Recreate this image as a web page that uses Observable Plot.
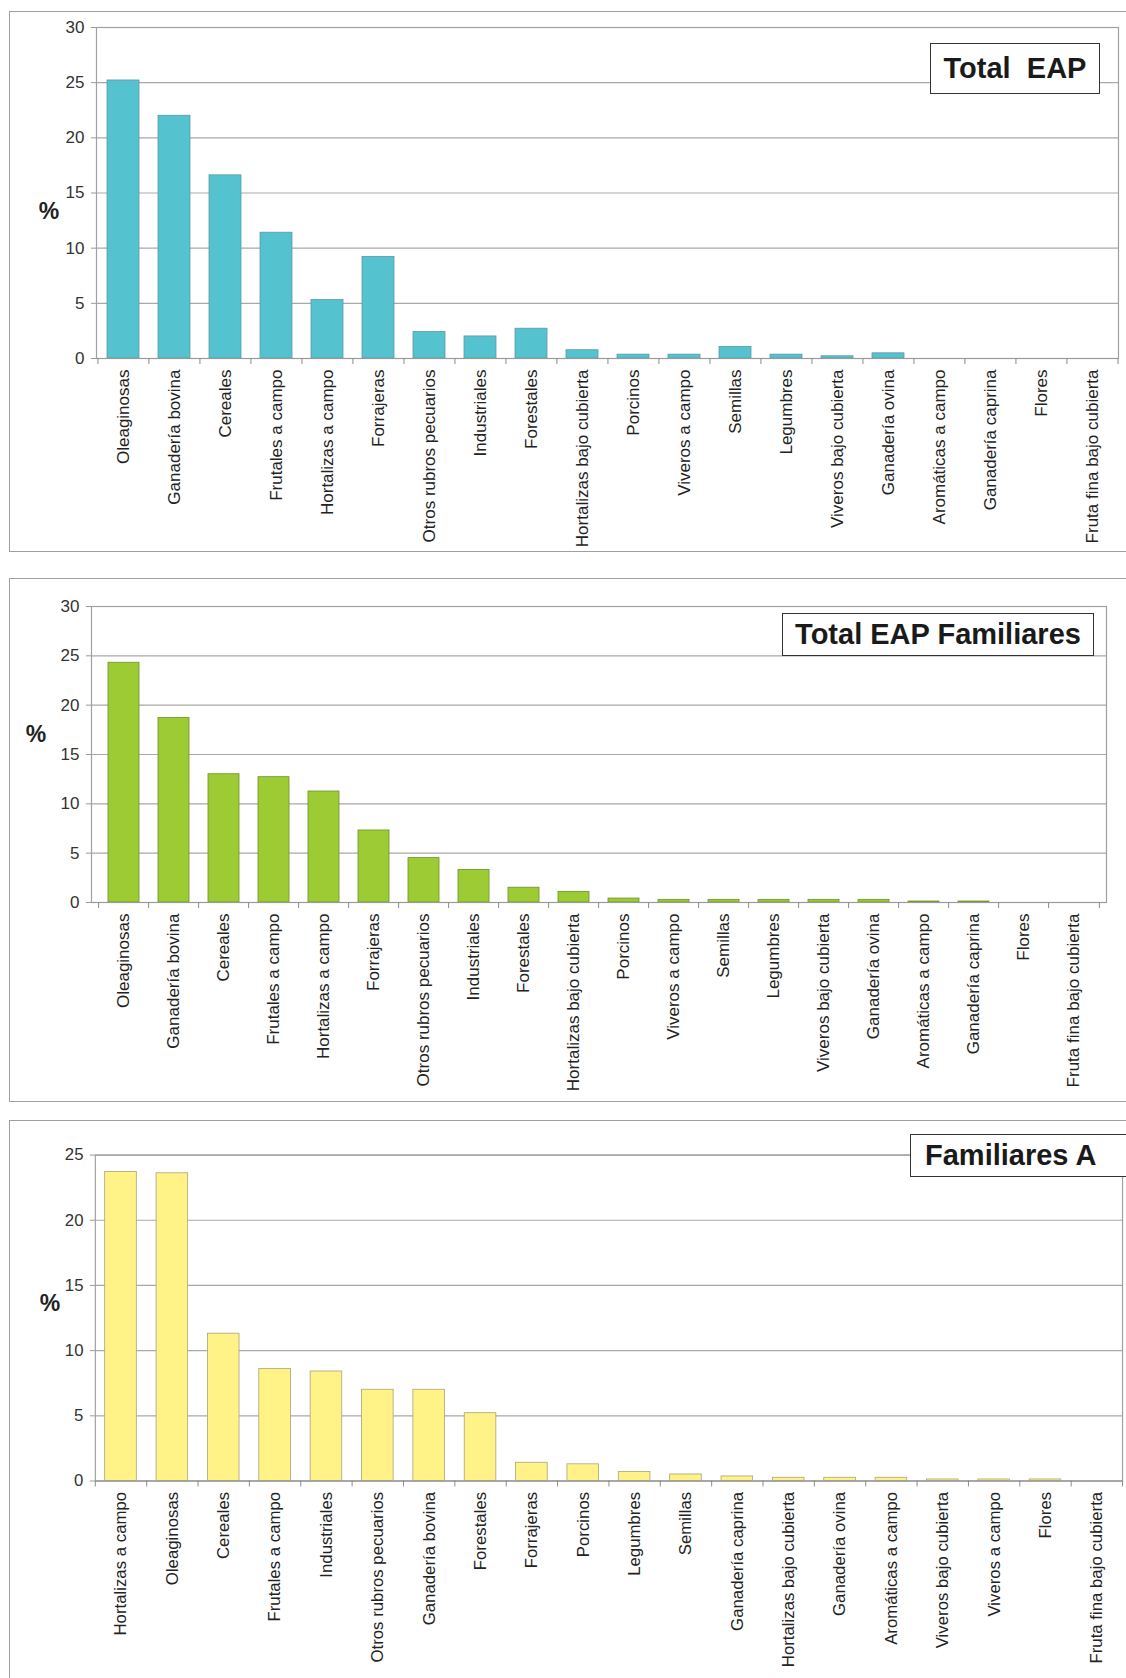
<!DOCTYPE html>
<html><head><meta charset="utf-8">
<script src="https://cdn.jsdelivr.net/npm/d3@7"></script>
<script src="https://cdn.jsdelivr.net/npm/@observablehq/plot@0.6"></script>
<style>
body{margin:0;width:1126px;height:1678px;overflow:hidden;background:#fff;font-family:"Liberation Sans",Arial,sans-serif;position:relative}
.panel{position:absolute;border:1.5px solid #a0a0a0;background:#fff;box-sizing:border-box}
.chart{position:absolute;left:0}
.pct{position:absolute;font-weight:bold;font-size:23px;color:#222;transform:translate(-50%,-50%)}
.tbox{position:absolute;border:1.5px solid #333;background:#fff;font-weight:bold;font-size:29px;color:#1a1a1a;display:flex;align-items:center;white-space:pre;box-sizing:border-box}
</style></head><body>
<script>
// ---- data ----
const catsTotal = ["Oleaginosas","Ganadería bovina","Cereales","Frutales a campo","Hortalizas a campo","Forrajeras","Otros rubros pecuarios","Industriales","Forestales","Hortalizas bajo cubierta","Porcinos","Viveros a campo","Semillas","Legumbres","Viveros bajo cubierta","Ganadería ovina","Aromáticas a campo","Ganadería caprina","Flores","Fruta fina bajo cubierta"];
const valsTotal = [25.2,22.0,16.6,11.4,5.3,9.2,2.4,2.0,2.7,0.75,0.35,0.35,1.05,0.35,0.2,0.47,0,0,0,0];

const catsFam = ["Oleaginosas","Ganadería bovina","Cereales","Frutales a campo","Hortalizas a campo","Forrajeras","Otros rubros pecuarios","Industriales","Forestales","Hortalizas bajo cubierta","Porcinos","Viveros a campo","Semillas","Legumbres","Viveros bajo cubierta","Ganadería ovina","Aromáticas a campo","Ganadería caprina","Flores","Fruta fina bajo cubierta"];
const valsFam = [24.3,18.7,13.0,12.7,11.25,7.3,4.5,3.3,1.5,1.08,0.4,0.27,0.27,0.27,0.27,0.27,0.1,0.1,0,0];

const catsA = ["Hortalizas a campo","Oleaginosas","Cereales","Frutales a campo","Industriales","Otros rubros pecuarios","Ganadería bovina","Forestales","Forrajeras","Porcinos","Legumbres","Semillas","Ganadería caprina","Hortalizas bajo cubierta","Ganadería ovina","Aromáticas a campo","Viveros bajo cubierta","Viveros a campo","Flores","Fruta fina bajo cubierta"];
const valsA = [23.7,23.6,11.3,8.6,8.4,7.0,7.0,5.2,1.4,1.28,0.7,0.5,0.35,0.25,0.25,0.25,0.12,0.12,0.12,0];

const yTicks30 = [0,5,10,15,20,25,30];
const yTicks25 = [0,5,10,15,20,25];
const titles = ["Total  EAP","Total EAP Familiares","Familiares A"];
const barColors = ["#55c3cf","#9dcb33","#fff387"];
const barStrokes = ["#5a9aa2","#6f8f2a","#a8a27a"];

// ---- layout ----
function addDiv(cls, style, text){
  const d = document.createElement("div");
  d.className = cls;
  Object.assign(d.style, style);
  if (text != null) d.textContent = text;
  document.body.appendChild(d);
  return d;
}

function makeChart(cats, vals, i, yMax, ticks, L){
  const data = cats.map((c,k)=>({c, v: vals[k]}));
  const step = (L.width - L.ml - L.mr) / cats.length;
  const pxPerUnit = (L.height - L.mt - L.mb) / yMax;
  const tickLen = 6 / pxPerUnit;
  const svg = Plot.plot({
    width: L.width, height: L.height,
    marginLeft: L.ml, marginRight: L.mr, marginTop: L.mt, marginBottom: L.mb,
    style: {background:"transparent", fontFamily:'"Liberation Sans",Arial,sans-serif', fontSize:"17px", color:"#222", overflow:"visible"},
    x: {domain: cats, paddingInner: 0.38, paddingOuter: 0.19, label: null},
    y: {domain: [0, yMax], label: null},
    marks: [
      Plot.gridY(ticks, {stroke:"#a9a9a9", strokeOpacity:1, strokeWidth:1.2}),
      Plot.frame({stroke:"#a0a0a0", strokeWidth:1.2}),
      Plot.barY(data, {x:"c", y:"v", fill: barColors[i], stroke: barStrokes[i], strokeWidth:0.8, filter: d => d.v > 0}),
      Plot.ruleY([0], {stroke:"#9a9a9a", strokeWidth:1.2}),
      Plot.ruleX(cats, {x: d => d, y1: 0, y2: -tickLen, dx: -step/2, stroke:"#8a8a8a", strokeWidth:1}),
      Plot.ruleX(cats.slice(-1), {x: d => d, y1: 0, y2: -tickLen, dx: step/2, stroke:"#8a8a8a", strokeWidth:1}),
      Plot.axisY({ticks, tickSize:5, tickPadding:7, stroke:"#999", fill:"#333", fontSize:17, label:null}),
      Plot.axisX({tickRotate:-90, tickSize:0, tickPadding:11, fill:"#222", fontSize:17, label:null})
    ]
  });
  svg.classList.add("chart");
  svg.style.top = L.top + "px";
  svg.style.position = "absolute";
  svg.style.left = "0px";
  document.body.appendChild(svg);
}

// panel frames
addDiv("panel", {left:"9px", top:"11px", width:"1140px", height:"541px"});
addDiv("panel", {left:"9px", top:"578px", width:"1140px", height:"524px"});
addDiv("panel", {left:"9px", top:"1120px", width:"1140px", height:"600px"});

makeChart(catsTotal, valsTotal, 0, 30, yTicks30, {top:0, width:1126, height:552, ml:96, mr:8, mt:27, mb:194});
makeChart(catsFam, valsFam, 1, 30, yTicks30, {top:560, width:1126, height:542, ml:91, mr:20, mt:46, mb:200});
makeChart(catsA, valsA, 2, 25, yTicks25, {top:1120, width:1140, height:558, ml:96, mr:4, mt:35, mb:193});

addDiv("pct", {left:"49px", top:"211px"}, "%");
addDiv("pct", {left:"36px", top:"734px"}, "%");
addDiv("pct", {left:"50px", top:"1303px"}, "%");

addDiv("tbox", {left:"930px", top:"43px", width:"170px", height:"51px", justifyContent:"center"}, titles[0]);
addDiv("tbox", {left:"782px", top:"613px", width:"312px", height:"43px", justifyContent:"center"}, titles[1]);
addDiv("tbox", {left:"910px", top:"1134px", width:"240px", height:"43px", justifyContent:"flex-start", paddingLeft:"14px"}, titles[2]);
</script>
</body></html>
